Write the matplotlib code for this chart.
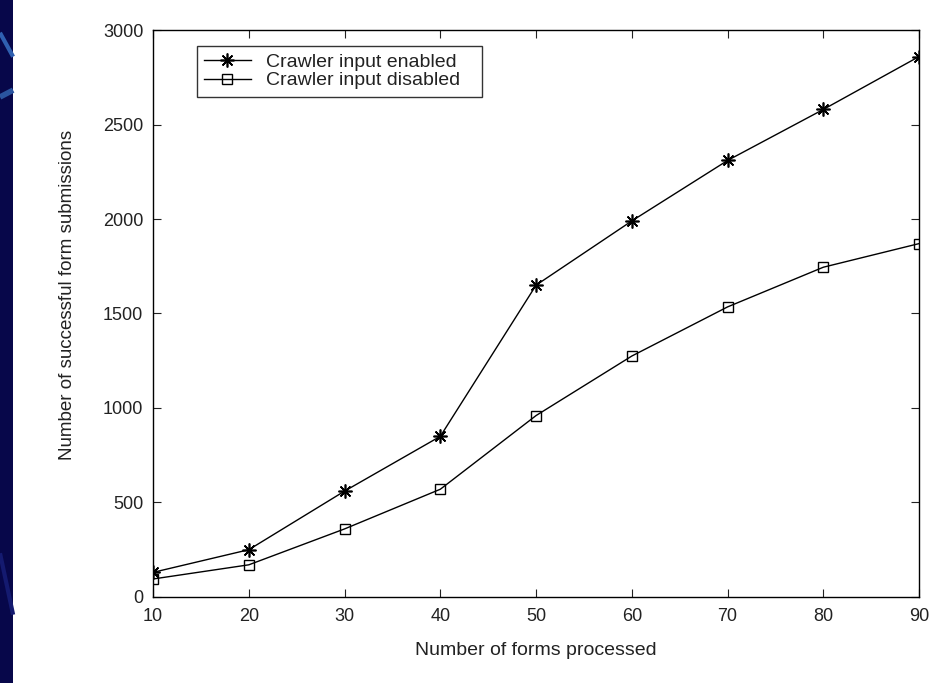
import matplotlib
matplotlib.use("Agg")
import matplotlib.pyplot as plt
from matplotlib.patches import Rectangle
from matplotlib.lines import Line2D

forms = [10, 20, 30, 40, 50, 60, 70, 80, 90]
enabled = [130, 250, 560, 850, 1650, 1990, 2310, 2580, 2860]
disabled = [95, 170, 360, 570, 960, 1275, 1535, 1745, 1870]
xticks = [10, 20, 30, 40, 50, 60, 70, 80, 90]
yticks = [0, 500, 1000, 1500, 2000, 2500, 3000]

plt.rcParams['font.family'] = ['Liberation Sans', 'DejaVu Sans']

fig = plt.figure(figsize=(9.36, 6.83), dpi=100)
fig.patch.set_facecolor('white')

# slide background strip on the left
fig.patches.append(Rectangle((0, 0), 0.014, 1, transform=fig.transFigure,
                             facecolor='#07074a', edgecolor='none', zorder=0))
for (x0, y0, x1, y1, c, w) in [
        (0, 0.952, 0.014, 0.917, '#2f5fb0', 3),
        (0, 0.858, 0.014, 0.868, '#2a54a0', 4),
        (0, 0.19, 0.014, 0.10, '#141a70', 3)]:
    fig.lines.append(Line2D([x0, x1], [y0, y1], transform=fig.transFigure,
                            color=c, lw=w, zorder=1, solid_capstyle='butt'))

ax = fig.add_axes([0.1635, 0.126, 0.8185, 0.83])
ax.plot(forms, enabled, color='black', lw=1.0, marker=(8, 2, 0), ms=10,
        mew=1.2, label='Crawler input enabled')
ax.plot(forms, disabled, color='black', lw=1.0, marker='s', ms=7,
        mfc='none', mec='black', mew=1.0, label='Crawler input disabled')

ax.set_xlim(10, 90)
ax.set_ylim(0, 3000)
ax.set_xticks(xticks)
ax.set_yticks(yticks)
ax.tick_params(direction='in', top=True, right=True, length=6, width=0.8,
               labelsize=13, colors='#222222')
ax.tick_params(axis='x', pad=8)
ax.tick_params(axis='y', pad=7)
for s in ax.spines.values():
    s.set_linewidth(1.0)

ax.set_xlabel('Number of forms processed', fontsize=14, labelpad=12,
              color='#222222')
ax.set_ylabel('Number of successful form submissions', fontsize=13.5,
              color='#222222')
ax.yaxis.set_label_coords(-0.100, 0.533)

leg = ax.legend(loc='upper left', bbox_to_anchor=(0.057, 0.8785, 0.373, 0.0935),
                mode='expand', fontsize=14,
                frameon=True, fancybox=False, edgecolor='black',
                handlelength=2.4, borderpad=0.37, labelspacing=0.05,
                handletextpad=0.8, borderaxespad=0)
leg.get_frame().set_linewidth(1.0)
for t in leg.get_texts():
    t.set_color('#222222')

fig.savefig('out.png', dpi=100)
